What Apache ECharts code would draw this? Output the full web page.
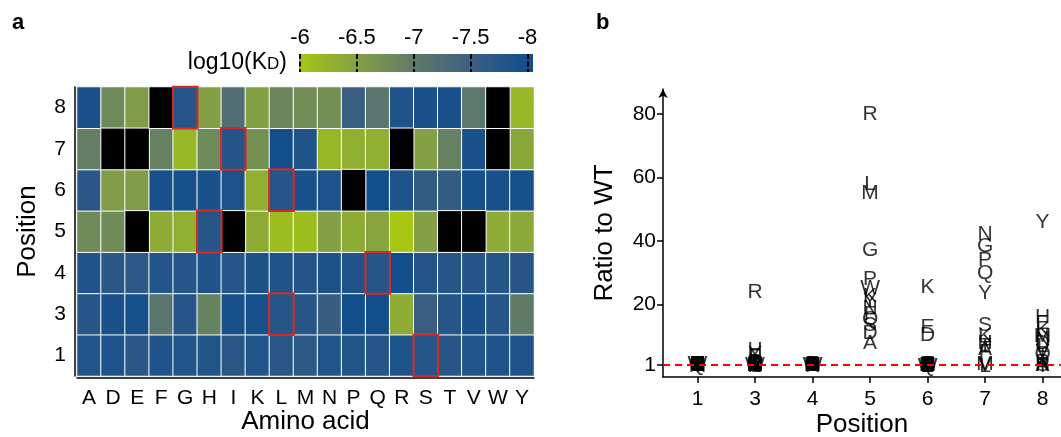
<!DOCTYPE html>
<html><head><meta charset="utf-8">
<script src="https://cdn.jsdelivr.net/npm/echarts@6/dist/echarts.min.js"></script>
<style>html,body{margin:0;padding:0;background:#fff}#c{width:1061px;height:437px}</style>
</head><body><div id="c"></div><script>
const aminoAcids = ['A','D','E','F','G','H','I','K','L','M','N','P','Q','R','S','T','V','W','Y'];
const positions = ['1','3','4','5','6','7','8'];
const wtResidues = ['S','L','Q','H','L','I','G'];

// log10(KD) per position, aligned with aminoAcids (null = not measured)
const kdPos1 = [-7.82,-7.88,-7.72,-7.85,-7.82,-7.82,-7.72,-7.82,-7.72,-7.68,-7.83,-7.83,-7.77,-7.88,-7.77,-7.74,-7.82,-7.85,-7.85];
const kdPos3 = [-7.76,-7.9,-7.95,-7.1,-7.76,-6.9,-7.95,-7.95,-7.76,-7.76,-7.55,-8.0,-8.05,-6.35,-7.52,-7.76,-7.9,-7.76,-7.0];
const kdPos4 = [-7.85,-7.72,-7.7,-7.8,-7.76,-7.85,-7.76,-7.87,-7.85,-7.8,-7.87,-7.85,-7.76,-8.05,-7.8,-7.76,-7.8,-7.76,-7.74];
const kdPos5 = [-6.78,-6.78,null,-6.35,-6.3,-7.76,null,-6.35,-6.12,-6.12,-6.5,-6.35,-6.45,-6.0,-6.5,null,null,-6.35,-6.38];
const kdPos6 = [-7.72,-6.55,-6.55,-7.95,-7.95,-7.9,-7.88,-6.3,-7.76,-7.9,-7.88,null,-8.05,-7.85,-7.6,-7.6,-7.95,-7.95,-7.95];
const kdPos7 = [-6.95,null,null,-6.92,-6.2,-6.8,-7.78,-6.7,-8.0,-7.85,-6.2,-6.3,-6.3,null,-6.5,-6.92,-7.9,null,-6.4];
const kdPos8 = [-7.9,-6.8,-6.55,null,-7.76,-6.5,-7.2,-6.5,-6.85,-6.75,-6.72,-7.5,-7.1,-7.85,-7.9,-7.95,-7.05,null,-6.2];
const kdByPosition = [kdPos1, kdPos3, kdPos4, kdPos5, kdPos6, kdPos7, kdPos8];

// Ratio to WT per position, aligned with aminoAcids (null = WT or not measured)
const ratioPos1 = [1.1,1.3,0.8,1.0,1.1,1.1,0.8,1.1,0.8,0.7,1.1,1.1,0.9,1.4,null,0.8,1.1,1.2,1.2];
const ratioPos3 = [1.0,1.4,1.6,3.5,1.0,5.5,1.6,1.6,null,1.0,0.6,1.9,2.0,24,0.6,1.0,1.4,1.0,4.5];
const ratioPos4 = [0.8,1.1,1.1,0.9,1.0,0.8,1.0,0.8,0.8,0.9,0.8,0.8,null,0.6,0.9,1.0,0.9,1.0,1.0];
const ratioPos5 = [8,11,null,17,37,null,null,22.5,58,55,19,28,15.5,80,13.5,null,null,25,21];
const ratioPos6 = [1.1,10.5,13,0.7,0.7,0.8,0.8,25.5,null,0.8,0.8,null,0.5,1.0,1.4,1.4,0.7,0.7,0.7];
const ratioPos7 = [6,null,null,5,38.5,8,null,10,0.6,1.2,42,34,30,null,13.5,7,0.8,null,23.5];
const ratioPos8 = [0.8,8,14,null,null,16,3.5,12,7,10,9,1.8,4.5,0.9,0.8,0.7,5,null,46];
const ratioByPosition = [ratioPos1, ratioPos3, ratioPos4, ratioPos5, ratioPos6, ratioPos7, ratioPos8];

const colorbarTicks = [-6,-6.5,-7,-7.5,-8];
const ratioTicks = [1,20,40,60,80];
const wtLine = 1;

const FONT = 'Liberation Sans, Arial, sans-serif';
const scaleColors = ['#134e8c','#3b5f82','#607a68','#83a044','#a6c612'];

const cellData = [], naData = [], wtData = [];
kdByPosition.forEach((row, yi) => {
  row.forEach((v, xi) => {
    if (v === null) naData.push([xi, yi, 0]);
    else if (aminoAcids[xi] === wtResidues[yi]) wtData.push([xi, yi, v]);
    else cellData.push([xi, yi, v]);
  });
});
const letterData = [];
ratioByPosition.forEach((row, pi) => {
  row.forEach((r, xi) => {
    if (r !== null) letterData.push([pi + 1, r, aminoAcids[xi]]);
  });
});

const axisLineStyle = { color: '#000', width: 1.5 };
const tickLabel = { fontSize: 21, color: '#000', fontFamily: FONT };
const titleStyle = { fontSize: 26, color: '#000', fontFamily: FONT };

const chart = echarts.init(document.getElementById('c'), null, { renderer: 'canvas' });
chart.setOption({
  animation: false,
  backgroundColor: '#fff',
  grid: [
    { left: 77, top: 87, width: 457, height: 289, outerBoundsMode: 'none', containLabel: false },
    { left: 663, top: 89, right: 0, bottom: 60, outerBoundsMode: 'none', containLabel: false },
    { left: 300, top: 54, width: 227.5, height: 18, outerBoundsMode: 'none', containLabel: false }
  ],
  visualMap: {
    show: false, type: 'continuous', min: -8, max: -6, seriesIndex: [0, 2], dimension: 2,
    inRange: { color: scaleColors }
  },
  xAxis: [
    { gridIndex: 0, type: 'category', data: aminoAcids, offset: 2,
      axisLine: { lineStyle: axisLineStyle }, axisTick: { alignWithLabel: true, length: 5, lineStyle: { color: '#000', width: 1.5 } },
      axisLabel: Object.assign({ margin: 10, interval: 0 }, tickLabel),
      name: 'Amino acid', nameLocation: 'middle', nameGap: 31, nameMoveOverlap: false, nameTextStyle: titleStyle },
    { gridIndex: 1, type: 'value', min: 0.4, max: 7.32,
      axisLine: { onZero: false, lineStyle: axisLineStyle },
      axisTick: { length: 6, customValues: [1,2,3,4,5,6,7], lineStyle: { color: '#000', width: 1.5 } },
      axisLabel: Object.assign({ margin: 12, customValues: [1,2,3,4,5,6,7], formatter: v => positions[Math.round(v) - 1] }, tickLabel),
      splitLine: { show: false },
      name: 'Position', nameLocation: 'middle', nameGap: 35, nameMoveOverlap: false, nameTextStyle: titleStyle },
    { gridIndex: 2, type: 'value', min: -8, max: -6, interval: 0.5, inverse: true, position: 'top',
      axisLine: { show: false }, axisTick: { show: false },
      axisLabel: { fontSize: 22, color: '#000', fontFamily: FONT, margin: 5,
        customValues: colorbarTicks },
      splitLine: { show: true, lineStyle: { color: '#000', width: 2, type: [5, 2.5] } } }
  ],
  yAxis: [
    { gridIndex: 0, type: 'category', data: positions, offset: 2,
      axisLine: { lineStyle: axisLineStyle }, axisTick: { alignWithLabel: true, length: 5, lineStyle: { color: '#000', width: 1.5 } },
      axisLabel: Object.assign({ margin: 9 }, tickLabel),
      name: 'Position', nameLocation: 'middle', nameGap: 34, nameMoveOverlap: false, nameTextStyle: titleStyle },
    { gridIndex: 1, type: 'value', min: -2.78, max: 87.8,
      axisLine: { onZero: false, lineStyle: axisLineStyle, symbol: ['none', 'arrow'], symbolSize: [7, 9] },
      axisTick: { length: 6, customValues: ratioTicks, lineStyle: { color: '#000', width: 1.5 } },
      axisLabel: Object.assign({ margin: 7, customValues: ratioTicks }, tickLabel),
      splitLine: { show: false },
      name: 'Ratio to WT', nameLocation: 'middle', nameGap: 45, nameMoveOverlap: false, nameTextStyle: titleStyle },
    { gridIndex: 2, type: 'value', min: 0, max: 1, show: false }
  ],
  graphic: [
    { type: 'text', left: 12, top: 12, style: { text: 'a', font: 'bold 22px ' + FONT, fill: '#000' } },
    { type: 'text', left: 596, top: 12, style: { text: 'b', font: 'bold 22px ' + FONT, fill: '#000' } },
    { type: 'rect', z: -10, shape: { x: 299, y: 54, width: 234, height: 18 },
      style: { fill: new echarts.graphic.LinearGradient(0, 0, 1, 0, [
        { offset: 0.004, color: scaleColors[4] }, { offset: 0.247, color: scaleColors[3] },
        { offset: 0.49, color: scaleColors[2] }, { offset: 0.733, color: scaleColors[1] },
        { offset: 0.976, color: scaleColors[0] }, { offset: 1, color: scaleColors[0] }]) } },
    { type: 'text', right: 1061 - 287, top: 51, style: {
        text: '{a|log10(K}{b|D}{a|)}', fill: '#000',
        rich: { a: { fontSize: 23, fontFamily: FONT, fill: '#000', verticalAlign: 'bottom' },
                b: { fontSize: 17, fontFamily: FONT, fill: '#000', verticalAlign: 'bottom', padding: [0, 0, 1, 0] } } } }
  ],
  series: [
    { type: 'heatmap', xAxisIndex: 0, yAxisIndex: 0, data: cellData,
      itemStyle: { borderColor: '#fff', borderWidth: 1 }, emphasis: { disabled: true } },
    { type: 'heatmap', xAxisIndex: 0, yAxisIndex: 0, data: naData,
      itemStyle: { color: '#000', borderColor: '#fff', borderWidth: 1 }, emphasis: { disabled: true } },
    { type: 'heatmap', xAxisIndex: 0, yAxisIndex: 0, data: wtData, z: 5,
      itemStyle: { borderColor: '#d42a2a', borderWidth: 2 }, emphasis: { disabled: true } },
    { type: 'scatter', xAxisIndex: 1, yAxisIndex: 1, data: letterData,
      symbol: 'circle', symbolSize: 1, itemStyle: { color: 'rgba(0,0,0,0)' },
      label: { show: true, position: 'inside', formatter: p => p.data[2], fontSize: 21, color: '#000',
        textBorderWidth: 0, fontFamily: FONT },
      emphasis: { disabled: true }, z: 4,
      markLine: { silent: true, symbol: 'none', label: { show: false },
        lineStyle: { color: '#ff0000', width: 1.8, type: [7, 5] }, data: [{ yAxis: wtLine }] } }
  ]
});
</script></body></html>
